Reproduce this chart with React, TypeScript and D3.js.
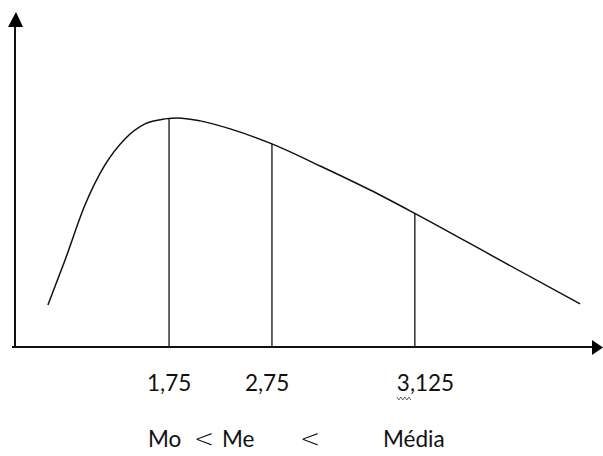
import React from "react";
import * as d3 from "d3";

// Schematic positive-skew density curve (abstract units 0..100)
const curveX = [5.6, 8.5, 11.9, 15.3, 18.7, 22.1, 25.5, 27.7, 31.5, 36.6, 43.7, 51.9, 60.4, 67.9, 82.5, 96.1];
const curveY = [12.6, 26.0, 42.5, 54.5, 62.3, 66.8, 68.3, 68.6, 67.7, 65.3, 60.8, 54.2, 47.0, 40.1, 26.0, 12.9];

// Vertical markers: Mo, Me, Média
const markerX = [26.2, 43.7, 68.0];
const markerY = [68.4, 60.8, 40.1];
const markerLabels = ["1,75", "2,75", "3,125"];

// Bottom relation line
const relationTexts = ["Mo", "<", "Me", "<", "Média"];

const W = 603;
const H = 456;

export default function App() {
  const x = d3.scaleLinear().domain([0, 100]).range([15, 603]);
  const y = d3.scaleLinear().domain([0, 100]).range([347, 13]);

  const pts: [number, number][] = curveX.map((v, i) => [x(v), y(curveY[i])]);
  const line = d3.line().curve(d3.curveMonotoneX)(pts) || "";

  const x0 = x(0);
  const y0 = y(0);
  const font = "Lato, 'Open Sans', sans-serif";
  const labelDx = [-22, -27, -18];
  const relX = [148, 194, 222, 300, 383];

  return (
    <svg width={W} height={H} style={{ position: "absolute", left: 0, top: 0, background: "#fff" }}>
      {/* y axis */}
      <line x1={x0} y1={y0} x2={x0} y2={27} stroke="#111" strokeWidth={2} />
      <path d={`M${x0 - 7},${27} L${x0 + 1},${12} L${x0 + 8},${27} Z`} fill="#000" />
      {/* x axis */}
      <line x1={12} y1={y0} x2={593} y2={y0} stroke="#111" strokeWidth={2} />
      <path d={`M${592},${y0 - 7} L${603},${y0 + 0.5} L${592},${y0 + 8} Z`} fill="#000" />

      {/* markers */}
      {markerX.map((m, i) => (
        <line key={i} x1={x(m)} x2={x(m)} y1={y(markerY[i])} y2={y0} stroke="#222" strokeWidth={1.4} />
      ))}

      {/* curve */}
      <path d={line} fill="none" stroke="#111" strokeWidth={1.5} />

      {/* marker labels */}
      {markerLabels.map((t, i) => (
        <text key={t} x={x(markerX[i]) + labelDx[i]} y={391} fontFamily={font} fontSize={22.5} fill="#111">
          {t}
        </text>
      ))}
      {/* spell-check squiggle under "3," */}
      <path
        d={`M${x(markerX[2]) - 18},397 l2,3 l2,-3 l2,3 l2,-3 l2,3 l2,-3 l2,3`}
        fill="none"
        stroke="#555"
        strokeWidth={0.9}
      />

      {/* relation */}
      {relationTexts.map((t, i) => (
        <text
          key={i}
          x={relX[i]}
          y={t === "<" ? 447 : 447}
          fontFamily={t === "<" ? "'DejaVu Sans', sans-serif" : font}
          fontSize={t === "<" ? 24 : 22.5}
          fontWeight={t === "<" ? 200 : 400}
          fill="#111"
        >
          {t}
        </text>
      ))}
    </svg>
  );
}
